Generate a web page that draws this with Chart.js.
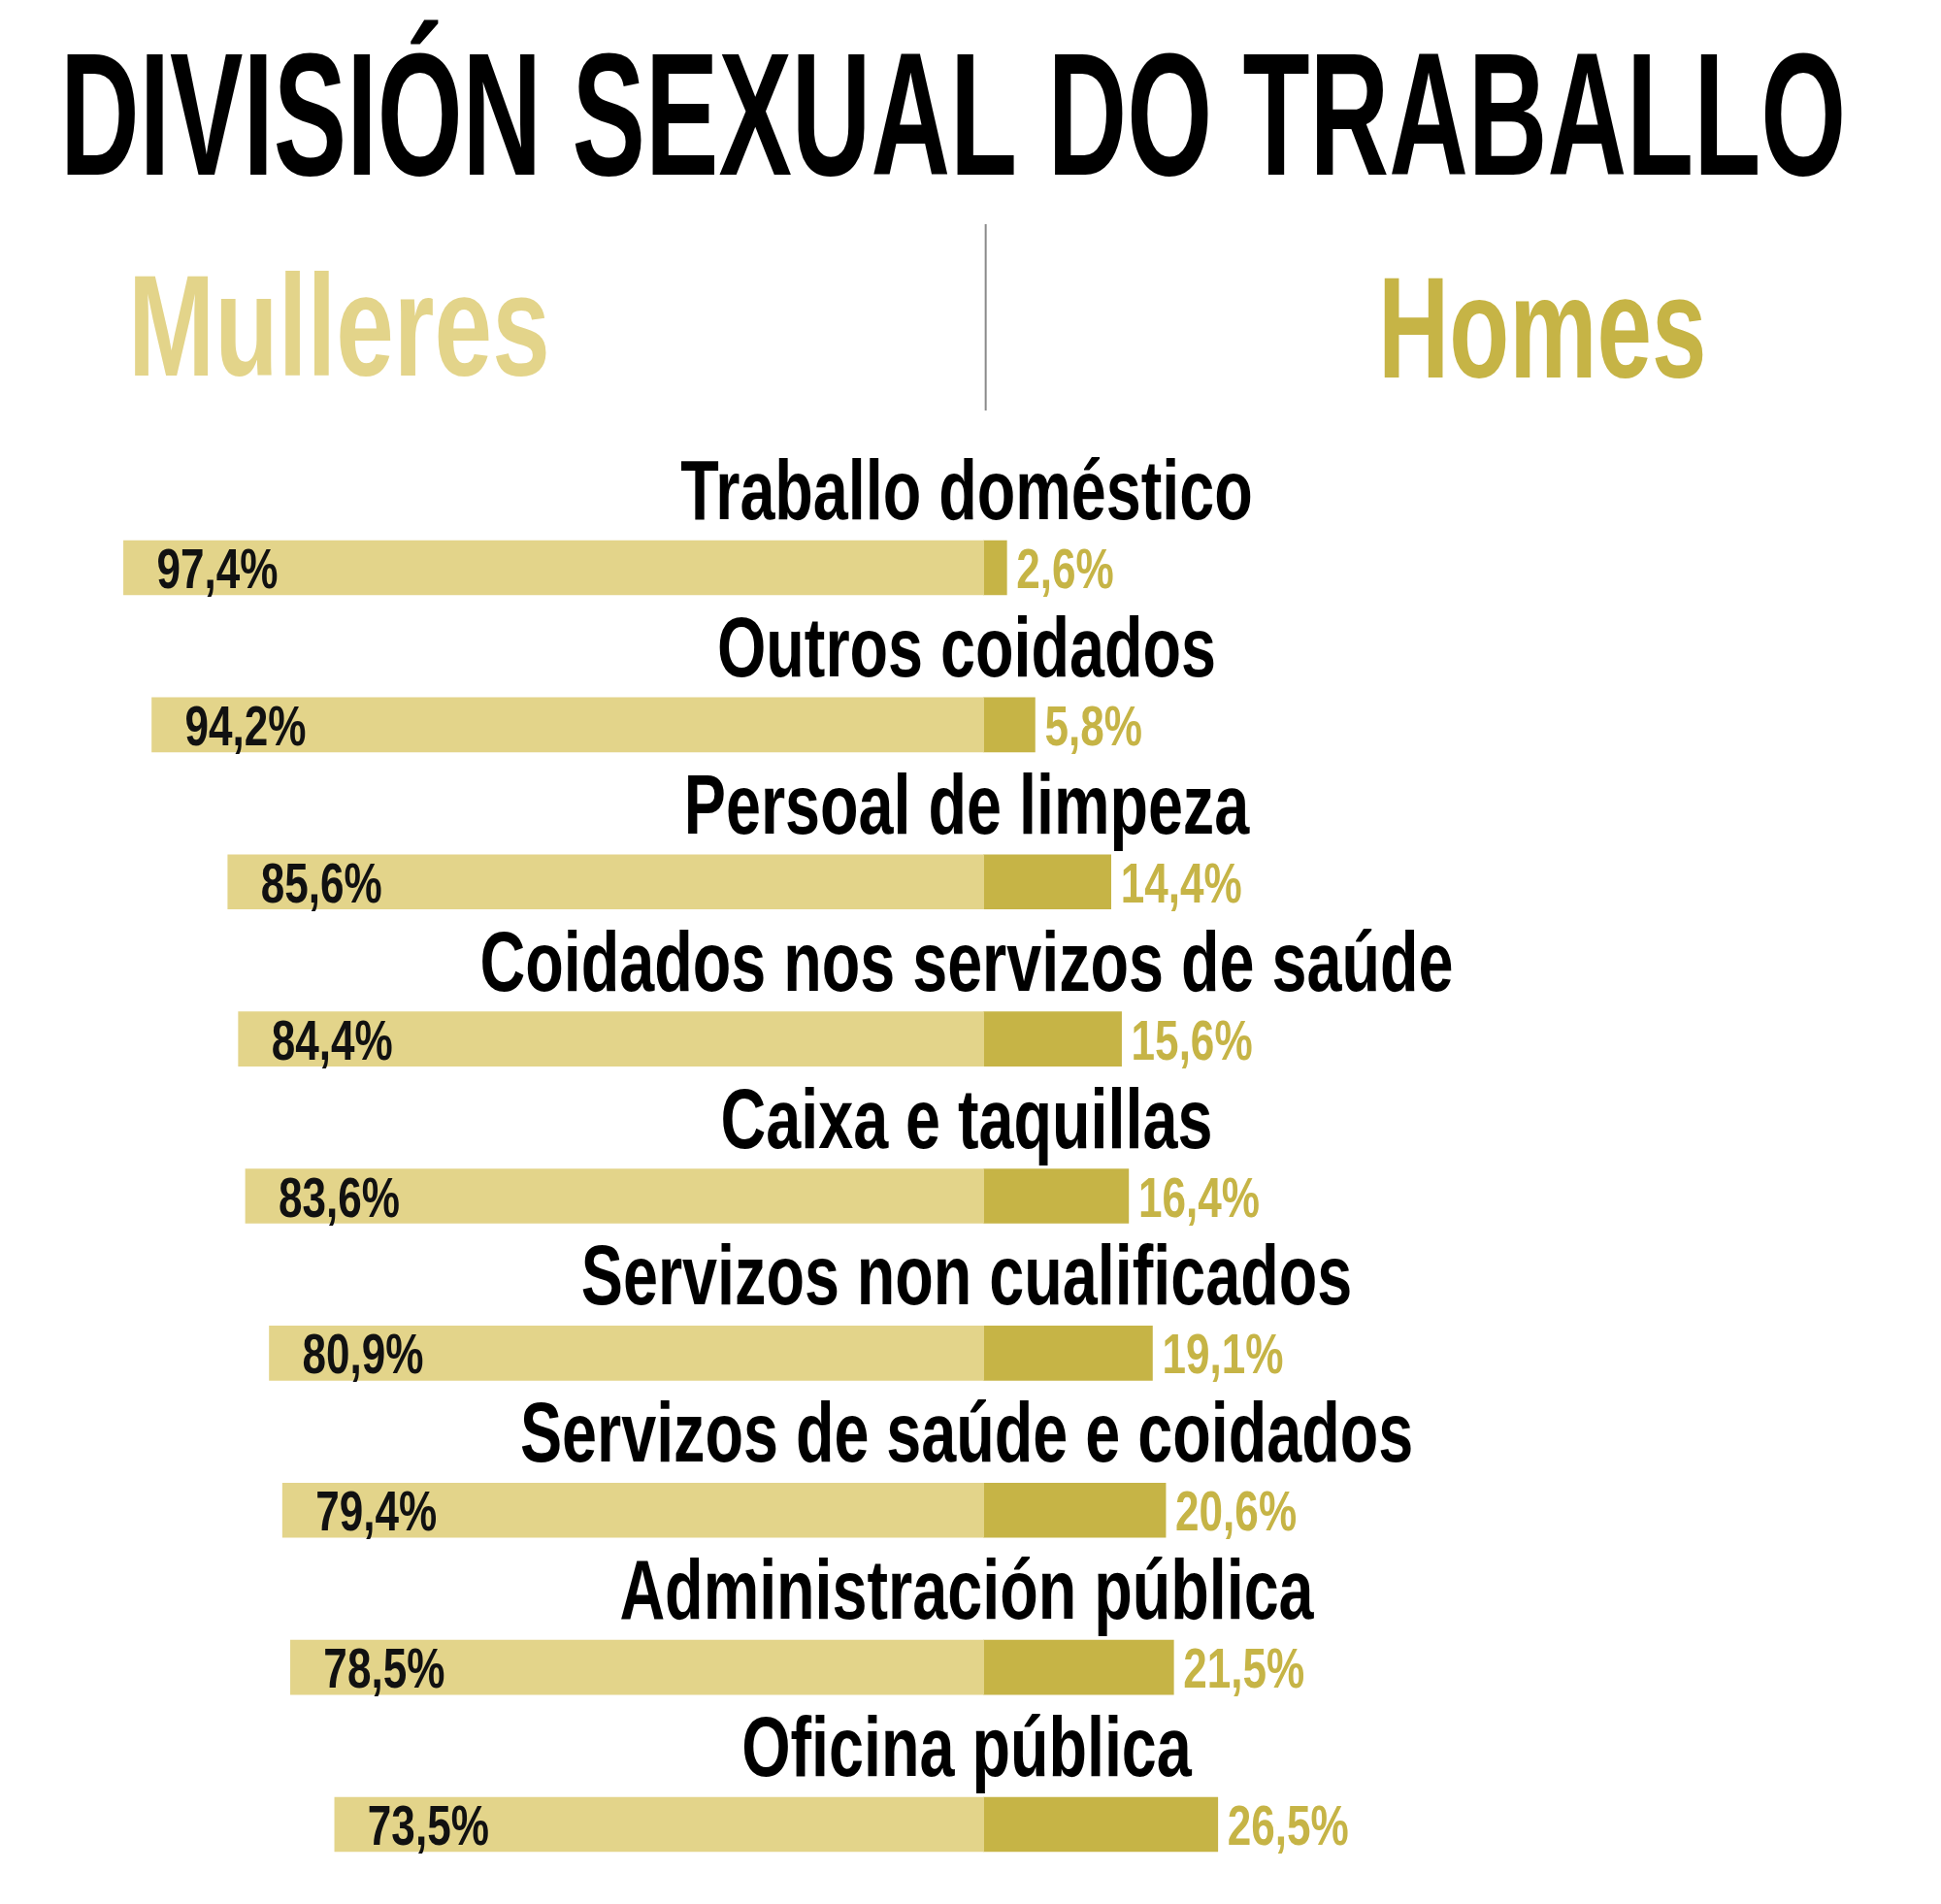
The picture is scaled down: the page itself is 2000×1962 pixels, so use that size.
<!DOCTYPE html>
<html>
<head>
<meta charset="utf-8">
<script src="https://cdn.jsdelivr.net/npm/chart.js@4/dist/chart.umd.min.js"></script>
<style>
  html, body { margin: 0; padding: 0; background: #fff; }
  #wrap { width: 2000px; height: 1962px; }
</style>
</head>
<body>
<div id="wrap"><canvas id="myChart" width="2000" height="1962"></canvas></div>
<script>
// Datos
const categorias = [
  "Traballo doméstico",
  "Outros coidados",
  "Persoal de limpeza",
  "Coidados nos servizos de saúde",
  "Caixa e taquillas",
  "Servizos non cualificados",
  "Servizos de saúde e coidados",
  "Administración pública",
  "Oficina pública"
];
const mulleres = [97.4, 94.2, 85.6, 84.4, 83.6, 80.9, 79.4, 78.5, 73.5];
const homes = [2.6, 5.8, 14.4, 15.6, 16.4, 19.1, 20.6, 21.5, 26.5];

const titulo = "DIVISIÓN SEXUAL DO TRABALLO";
const serieNomes = ["Mulleres", "Homes"];

// Colores
const colorMulleres = "#e3d48a";
const colorHomes = "#c6b446";
const fuente = "'Liberation Sans', Arial, sans-serif";

// texto estrechado (la fuente original es condensada)
function textoEstrecho(ctx, texto, x, y, size, color, sx, align) {
  ctx.save();
  ctx.font = "bold " + size + "px " + fuente;
  ctx.fillStyle = color;
  ctx.textAlign = align || "left";
  ctx.textBaseline = "alphabetic";
  ctx.translate(x, y);
  ctx.scale(sx, 1);
  ctx.fillText(texto, 0, 0);
  ctx.restore();
}

function formatoPct(v) {
  return v.toFixed(1).replace(".", ",") + "%";
}

// Plugin para titulo, cabeceras y etiquetas
const etiquetasPlugin = {
  id: "etiquetas",
  afterDatasetsDraw(chart) {
    const ctx = chart.ctx;
    const xScale = chart.scales.x;
    const yScale = chart.scales.y;
    const centro = xScale.getPixelForValue(0);

    // titulo
    textoEstrecho(ctx, titulo, 62, 180, 180, "#000", 0.628, "left");

    // cabeceras
    textoEstrecho(ctx, serieNomes[0], 132, 387, 148, colorMulleres, 0.724, "left");
    textoEstrecho(ctx, serieNomes[1], 1420, 389, 148, colorHomes, 0.686, "left");

    // linea separadora
    ctx.save();
    ctx.strokeStyle = "#8a8a8a";
    ctx.lineWidth = 2;
    ctx.beginPath();
    ctx.moveTo(centro + 2, 231);
    ctx.lineTo(centro + 2, 423);
    ctx.stroke();
    ctx.restore();

    const metaM = chart.getDatasetMeta(0);
    const metaH = chart.getDatasetMeta(1);

    categorias.forEach((cat, i) => {
      const yc = yScale.getPixelForValue(i);
      // nombre de categoria
      textoEstrecho(ctx, cat, 996, yc - 50, 88, "#000", 0.735, "center");

      // valores
      textoEstrecho(ctx, formatoPct(mulleres[i]), metaM.data[i].x + 34, yc + 21, 58, "#111", 0.76, "left");
      textoEstrecho(ctx, formatoPct(homes[i]), metaH.data[i].x + 10, yc + 21, 58, colorHomes, 0.76, "left");
    });
  }
};

// Crear data
function crearData() {
  return {
    labels: categorias,
    datasets: [
      {
        label: serieNomes[0],
        data: mulleres.map((v) => -v),
        backgroundColor: colorMulleres,
        barThickness: 56,
        clip: false
      },
      {
        label: serieNomes[1],
        data: homes,
        backgroundColor: colorHomes,
        barThickness: 56,
        clip: false
      }
    ]
  };
}

const chartDom = document.getElementById("myChart");
const myChart = new Chart(chartDom, {
  type: "bar",
  data: crearData(),
  options: {
    indexAxis: "y",
    responsive: false,
    animation: false,
    devicePixelRatio: 1,
    layout: { padding: { top: 585, bottom: 82, left: 0, right: 0 } },
    plugins: {
      legend: { display: false },
      tooltip: { enabled: false }
    },
    scales: {
      x: {
        stacked: true,
        min: -111.4,
        max: 108.4,
        display: false
      },
      y: {
        stacked: true,
        offset: false,
        display: false
      }
    }
  },
  plugins: [etiquetasPlugin]
});
</script>
</body>
</html>
